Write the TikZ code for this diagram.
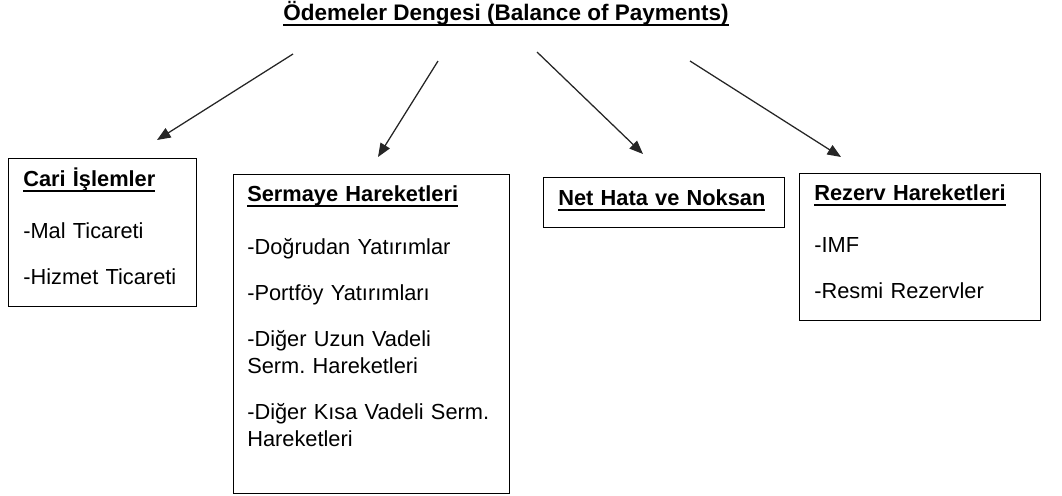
\documentclass[tikz,border=0pt]{standalone}
\usepackage{fontspec}
\setmainfont{Liberation Sans}
\usetikzlibrary{arrows.meta}
\frenchspacing

% bold heading with a thick underline under the baseline
\newsavebox{\hdbox}
\newcommand{\hd}[1]{\sbox{\hdbox}{\bfseries #1}\rlap{\rule[-0.14cm]{\wd\hdbox}{0.05cm}}\usebox{\hdbox}}

\begin{document}
\begin{tikzpicture}[
  x=0.025cm, y=-0.025cm,
  box/.style={draw=black, line width=0.9pt, inner sep=0pt, anchor=north west},
  txt/.style={anchor=base west, inner sep=0pt, align=left, text width=6.5cm,
              font=\fontsize{15.5}{19.2}\selectfont},
  ttl/.style={anchor=base, inner sep=0pt, font=\fontsize{16}{19.2}\selectfont},
  arr/.style={draw=black!85, line width=0.9pt, -{Triangle[length=3.4mm, width=2.7mm]}},
]
\useasboundingbox (0,0) rectangle (1062,495);

% ---------------- title ----------------
\node[ttl] (bop) at (506,20) {\hd{Ödemeler Dengesi (Balance of Payments)}};

% ---------------- the four accounts ----------------
\node[box, minimum width=188*0.025cm, minimum height=148*0.025cm] (cari) at (8,158) {};
\node[box, minimum width=276*0.025cm, minimum height=319*0.025cm] (sermaye) at (233,174) {};
\node[box, minimum width=241*0.025cm, minimum height=50*0.025cm]  (hata) at (543,177) {};
\node[box, minimum width=241*0.025cm, minimum height=147*0.025cm] (rezerv) at (799,173) {};

\node[txt] (caritxt) at (23,186)
  {\hd{Cari İşlemler}\\[0.64cm]
   -Mal Ticareti\\[0.475cm]
   -Hizmet Ticareti};
\node[txt] (sermayetxt) at (247,201.7)
  {\hd{Sermaye Hareketleri}\\[0.64cm]
   -Doğrudan Yatırımlar\\[0.475cm]
   -Portföy Yatırımları\\[0.475cm]
   -Diğer Uzun Vadeli\\
   Serm. Hareketleri\\[0.475cm]
   -Diğer Kısa Vadeli Serm.\\
   Hareketleri};
\node[txt] (hatatxt) at (558,205) {\hd{Net Hata ve Noksan}};
\node[txt] (rezervtxt) at (814,200)
  {\hd{Rezerv Hareketleri}\\[0.64cm]
   -IMF\\[0.475cm]
   -Resmi Rezervler};

% ---------------- arrows from the title ----------------
\coordinate (s1) at (293,54);  \coordinate (e1) at (157,140);
\coordinate (s2) at (438,61);  \coordinate (e2) at (378,157);
\coordinate (s3) at (537,52);  \coordinate (e3) at (643,154);
\coordinate (s4) at (690,61);  \coordinate (e4) at (841,157);

\draw[arr] (s1) -- (e1);
\draw[arr] (s2) -- (e2);
\draw[arr] (s3) -- (e3);
\draw[arr] (s4) -- (e4);

\end{tikzpicture}
\end{document}
